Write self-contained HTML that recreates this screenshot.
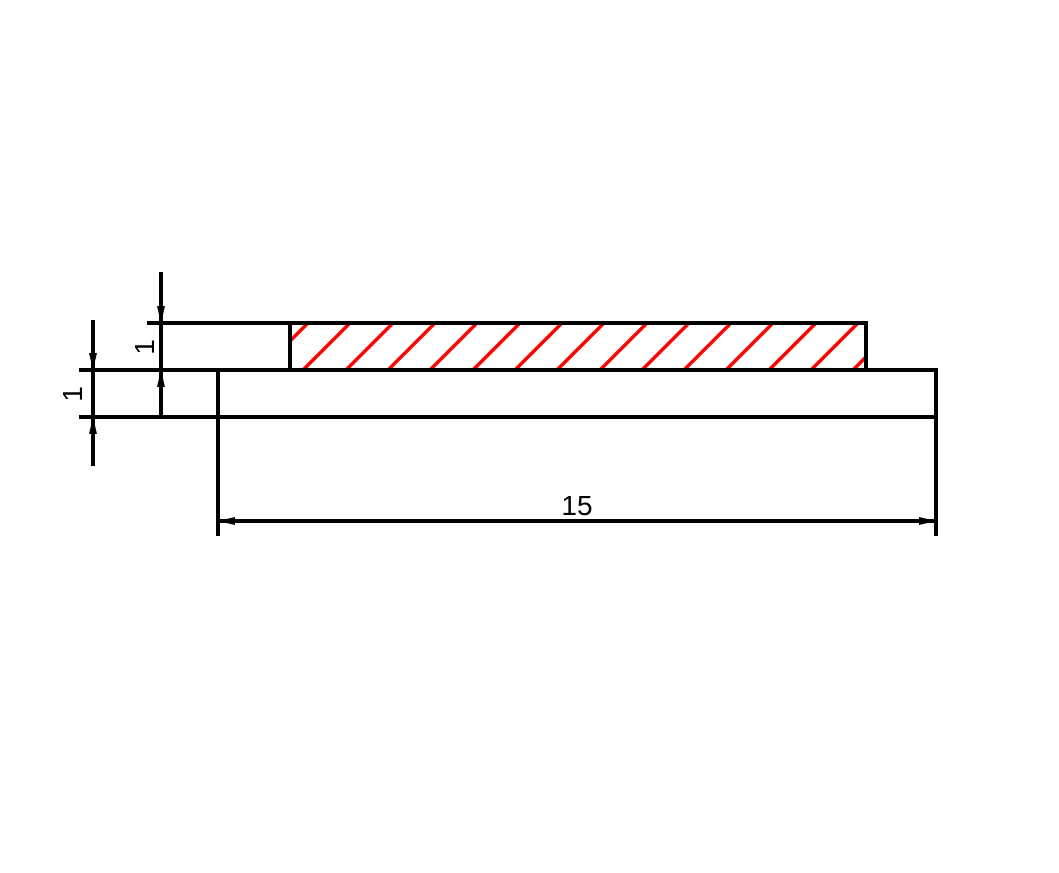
<!DOCTYPE html>
<html><head><meta charset="utf-8"><style>html,body{margin:0;padding:0;background:#fff}</style></head>
<body>
<svg width="1059" height="868" viewBox="0 0 1059 868" xmlns="http://www.w3.org/2000/svg">
<defs><clipPath id="c"><rect x="290" y="323" width="576" height="47"/></clipPath></defs>
<g clip-path="url(#c)" stroke="#ff0000" stroke-width="3.5">
<path d="M261,370 L308,323 M303,370 L350,323 M346,370 L393,323 M388,370 L435,323 M430,370 L477,323 M473,370 L520,323 M515,370 L562,323 M557,370 L604,323 M600,370 L647,323 M642,370 L689,323 M684,370 L731,323 M726,370 L773,323 M769,370 L816,323 M811,370 L858,323 M853,370 L900,323"/>
</g>
<g stroke="#000" stroke-width="4" fill="none">
<path d="M147,323 H866 M79,370 H937 M79,417 H937 M290,323 V370 M866,321 V370 M218,370 V536 M936,368 V536 M93,320 V466 M161,272 V417 M218,521 H936"/>
</g>
<g fill="#000">
<path d="M93,370 l-4,-17 h8z M93,417 l-4,17 h8z M161,323 l-4,-17 h8z M161,370 l-4,17 h8z M218,521 l17,-4 v8z M936,521 l-17,-4 v8z"/>
</g>
<g font-family="Liberation Sans, sans-serif" font-size="28" fill="#000">
<text x="577" y="515" text-anchor="middle">15</text>
<text transform="translate(154,347) rotate(-90)" text-anchor="middle">1</text>
<text transform="translate(82,394) rotate(-90)" text-anchor="middle">1</text>
</g>
</svg>
</body></html>
